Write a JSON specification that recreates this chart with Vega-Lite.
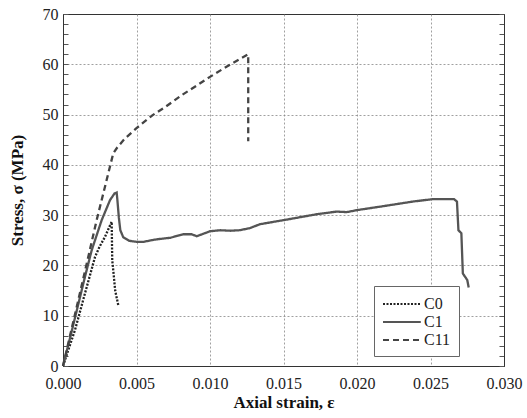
{
  "$schema": "https://vega.github.io/schema/vega-lite/v6.json",
  "autosize": "none",
  "width": 441,
  "height": 352,
  "padding": {"left": 63, "top": 14, "right": 23, "bottom": 52},
  "background": "white",
  "config": {
    "view": {"stroke": "#333", "strokeWidth": 1},
    "font": "Times New Roman, Liberation Serif, Tinos, Times, serif",
    "axis": {"labelFont": "Times New Roman, Liberation Serif, Tinos, Times, serif", "titleFont": "Times New Roman, Liberation Serif, Tinos, Times, serif", "labelColor": "#222", "titleColor": "#111", "domainColor": "#333", "tickColor": "#555", "gridColor": "#888", "gridDash": [2, 2], "gridWidth": 0.8},
    "legend": {"labelFont": "Times New Roman, Liberation Serif, Tinos, Times, serif"}
  },
  "data": {"values": [
    {"s": "C0", "i": 0, "x": 0, "y": 0},
    {"s": "C0", "i": 1, "x": 0.00082, "y": 7.2},
    {"s": "C0", "i": 2, "x": 0.0015, "y": 14.5},
    {"s": "C0", "i": 3, "x": 0.00218, "y": 21.7},
    {"s": "C0", "i": 4, "x": 0.0025, "y": 23.8},
    {"s": "C0", "i": 5, "x": 0.00286, "y": 25.7},
    {"s": "C0", "i": 6, "x": 0.00331, "y": 28.7},
    {"s": "C0", "i": 7, "x": 0.00335, "y": 21},
    {"s": "C0", "i": 8, "x": 0.00342, "y": 19},
    {"s": "C0", "i": 9, "x": 0.00355, "y": 15},
    {"s": "C0", "i": 10, "x": 0.00376, "y": 12.1},
    {"s": "C1", "i": 0, "x": 0, "y": 0},
    {"s": "C1", "i": 1, "x": 0.0005, "y": 5.8},
    {"s": "C1", "i": 2, "x": 0.001, "y": 11.8},
    {"s": "C1", "i": 3, "x": 0.0015, "y": 17.8},
    {"s": "C1", "i": 4, "x": 0.00195, "y": 23},
    {"s": "C1", "i": 5, "x": 0.00263, "y": 29},
    {"s": "C1", "i": 6, "x": 0.0032, "y": 33},
    {"s": "C1", "i": 7, "x": 0.0035, "y": 34.3},
    {"s": "C1", "i": 8, "x": 0.00365, "y": 34.5},
    {"s": "C1", "i": 9, "x": 0.0037, "y": 33},
    {"s": "C1", "i": 10, "x": 0.0038, "y": 29.5},
    {"s": "C1", "i": 11, "x": 0.0039, "y": 27},
    {"s": "C1", "i": 12, "x": 0.0041, "y": 25.6},
    {"s": "C1", "i": 13, "x": 0.0045, "y": 24.9},
    {"s": "C1", "i": 14, "x": 0.005, "y": 24.7},
    {"s": "C1", "i": 15, "x": 0.0055, "y": 24.7},
    {"s": "C1", "i": 16, "x": 0.006, "y": 25},
    {"s": "C1", "i": 17, "x": 0.0064, "y": 25.2},
    {"s": "C1", "i": 18, "x": 0.0073, "y": 25.5},
    {"s": "C1", "i": 19, "x": 0.0082, "y": 26.2},
    {"s": "C1", "i": 20, "x": 0.00875, "y": 26.2},
    {"s": "C1", "i": 21, "x": 0.0091, "y": 25.8},
    {"s": "C1", "i": 22, "x": 0.01, "y": 26.8},
    {"s": "C1", "i": 23, "x": 0.0107, "y": 27},
    {"s": "C1", "i": 24, "x": 0.0114, "y": 26.9},
    {"s": "C1", "i": 25, "x": 0.012, "y": 27},
    {"s": "C1", "i": 26, "x": 0.0127, "y": 27.4},
    {"s": "C1", "i": 27, "x": 0.0134, "y": 28.2},
    {"s": "C1", "i": 28, "x": 0.015, "y": 29},
    {"s": "C1", "i": 29, "x": 0.0173, "y": 30.2},
    {"s": "C1", "i": 30, "x": 0.0186, "y": 30.7},
    {"s": "C1", "i": 31, "x": 0.0193, "y": 30.6},
    {"s": "C1", "i": 32, "x": 0.02, "y": 31},
    {"s": "C1", "i": 33, "x": 0.0216, "y": 31.7},
    {"s": "C1", "i": 34, "x": 0.0238, "y": 32.7},
    {"s": "C1", "i": 35, "x": 0.0252, "y": 33.2},
    {"s": "C1", "i": 36, "x": 0.0266, "y": 33.2},
    {"s": "C1", "i": 37, "x": 0.0268, "y": 32.7},
    {"s": "C1", "i": 38, "x": 0.0269, "y": 27},
    {"s": "C1", "i": 39, "x": 0.0271, "y": 26.4},
    {"s": "C1", "i": 40, "x": 0.0272, "y": 18.4},
    {"s": "C1", "i": 41, "x": 0.0275, "y": 17.1},
    {"s": "C1", "i": 42, "x": 0.0276, "y": 15.6},
    {"s": "C11", "i": 0, "x": 0, "y": 0},
    {"s": "C11", "i": 1, "x": 0.0005, "y": 6.3},
    {"s": "C11", "i": 2, "x": 0.001, "y": 12.6},
    {"s": "C11", "i": 3, "x": 0.00172, "y": 21.7},
    {"s": "C11", "i": 4, "x": 0.00229, "y": 29},
    {"s": "C11", "i": 5, "x": 0.00274, "y": 34.3},
    {"s": "C11", "i": 6, "x": 0.00308, "y": 38.3},
    {"s": "C11", "i": 7, "x": 0.00342, "y": 42.3},
    {"s": "C11", "i": 8, "x": 0.0037, "y": 43.5},
    {"s": "C11", "i": 9, "x": 0.0042, "y": 45.2},
    {"s": "C11", "i": 10, "x": 0.005, "y": 47.3},
    {"s": "C11", "i": 11, "x": 0.0061, "y": 49.9},
    {"s": "C11", "i": 12, "x": 0.007, "y": 51.6},
    {"s": "C11", "i": 13, "x": 0.0081, "y": 53.9},
    {"s": "C11", "i": 14, "x": 0.009, "y": 55.6},
    {"s": "C11", "i": 15, "x": 0.01, "y": 57.5},
    {"s": "C11", "i": 16, "x": 0.011, "y": 59.3},
    {"s": "C11", "i": 17, "x": 0.012, "y": 61},
    {"s": "C11", "i": 18, "x": 0.0126, "y": 62},
    {"s": "C11", "i": 19, "x": 0.0126, "y": 44.7}
  ]},
  "resolve": {"axis": {"y": "independent"}},
  "layer": [
    {
      "mark": {"type": "line", "strokeWidth": 2.3},
      "encoding": {
        "x": {"field": "x", "type": "quantitative", "scale": {"domain": [0, 0.03], "nice": false},
          "axis": {"values": [0, 0.005, 0.01, 0.015, 0.02, 0.025, 0.03], "format": ".3f", "title": "Axial strain,  ε", "labelFontSize": 16, "titleFontSize": 17, "titleFontWeight": "bold", "labelPadding": 9, "titlePadding": 3, "ticks": false, "grid": true, "labelFlush": false}},
        "y": {"field": "y", "type": "quantitative", "scale": {"domain": [0, 70], "nice": false},
          "axis": {"values": [0, 2, 4, 6, 8, 10, 12, 14, 16, 18, 20, 22, 24, 26, 28, 30, 32, 34, 36, 38, 40, 42, 44, 46, 48, 50, 52, 54, 56, 58, 60, 62, 64, 66, 68, 70],
            "labelExpr": "datum.value % 10 === 0 ? datum.label : ''", "title": "Stress, σ  (MPa)", "labelFontSize": 16, "titleFontSize": 17, "titleFontWeight": "bold", "tickSize": -5, "labelPadding": 10, "titlePadding": 16, "grid": true,
            "gridOpacity": {"condition": {"test": "datum.value % 10 === 0 && datum.value > 0 && datum.value < 70", "value": 1}, "value": 0}}},
        "order": {"field": "i", "type": "quantitative"},
        "color": {"field": "s", "type": "nominal", "scale": {"domain": ["C0", "C1", "C11"], "range": ["#222222", "#555555", "#444444"]},
          "legend": {"title": null, "orient": "none", "legendX": 311, "legendY": 272, "strokeColor": "#666", "fillColor": "white", "padding": 8, "symbolType": "M-1,0H3.2", "symbolSize": 324, "symbolStrokeWidth": 2, "labelFontSize": 16, "labelColor": "#222", "rowPadding": 0, "labelOffset": 22}},
        "strokeDash": {"field": "s", "type": "nominal", "scale": {"domain": ["C0", "C1", "C11"], "range": [[2, 1.5], [1, 0], [6, 4]]},
          "legend": {"title": null, "orient": "none", "legendX": 311, "legendY": 272, "strokeColor": "#666", "fillColor": "white", "padding": 8, "symbolType": "M-1,0H3.2", "symbolSize": 324, "symbolStrokeWidth": 2, "labelFontSize": 16, "labelColor": "#222", "rowPadding": 0, "labelOffset": 22}}
      }
    },
    {
      "mark": {"type": "line", "opacity": 0},
      "encoding": {
        "x": {"field": "x", "type": "quantitative", "scale": {"domain": [0, 0.03], "nice": false}},
        "y": {"field": "y", "type": "quantitative", "scale": {"domain": [0, 70], "nice": false},
          "axis": {"orient": "right", "values": [0, 2, 4, 6, 8, 10, 12, 14, 16, 18, 20, 22, 24, 26, 28, 30, 32, 34, 36, 38, 40, 42, 44, 46, 48, 50, 52, 54, 56, 58, 60, 62, 64, 66, 68, 70], "labels": false, "title": null, "tickSize": -5, "grid": false}},
        "order": {"field": "i", "type": "quantitative"},
        "detail": {"field": "s", "type": "nominal"}
      }
    }
  ]
}
